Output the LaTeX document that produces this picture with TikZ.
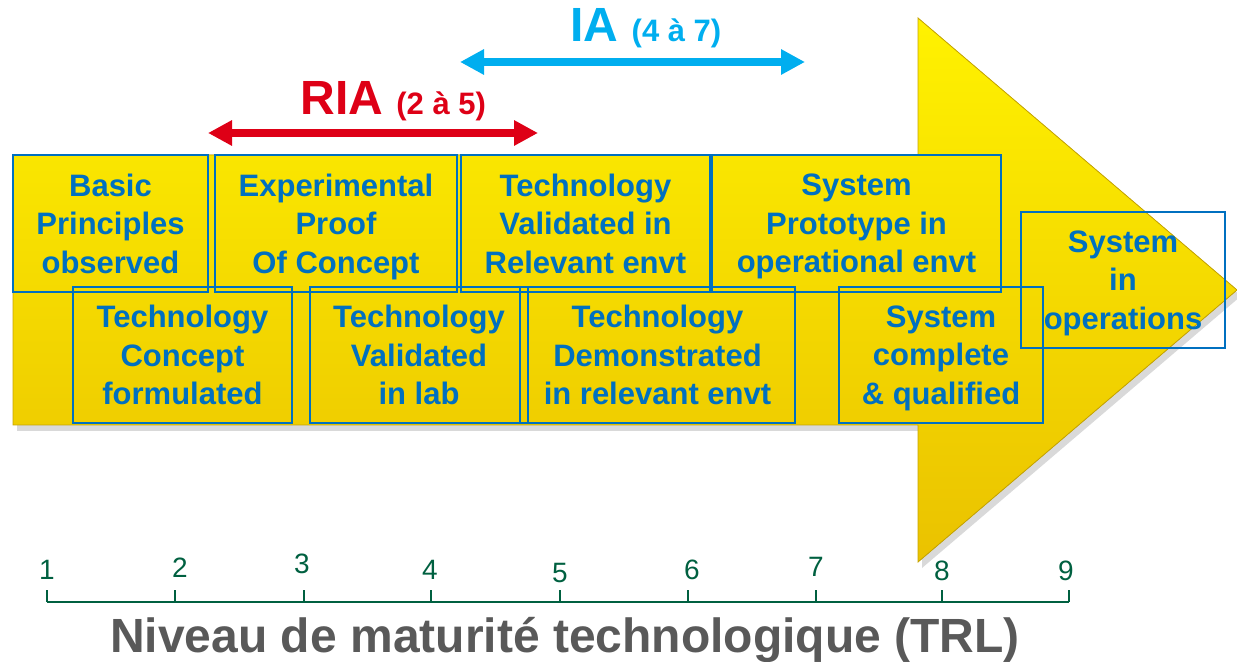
\documentclass[tikz,border=0pt]{standalone}
\usepackage{fontspec}
\setmainfont{Liberation Sans}
\usetikzlibrary{arrows.meta,shadows}
\definecolor{trlblue}{RGB}{0,112,192}
\definecolor{riared}{RGB}{222,0,22}
\definecolor{iacyan}{RGB}{0,174,239}
\definecolor{axisgreen}{RGB}{0,96,64}
\definecolor{titlegray}{RGB}{89,89,89}
\definecolor{arrowtop}{RGB}{255,242,0}
\definecolor{arrowbot}{RGB}{234,194,0}
\tikzset{
	level/.style={draw=trlblue,line width=1pt,text=trlblue,font=\fontsize{15.5}{19.2}\selectfont\bfseries,align=center,inner sep=0pt,text depth=0pt},
	wh/.style 2 args={minimum width={#1*0.5pt},minimum height={#2*0.5pt}},
	spanarrow/.style={line width=4pt,{Triangle[length=12pt,width=12pt]}-{Triangle[length=12pt,width=12pt]}},
}
\begin{document}
\begin{tikzpicture}[x=0.5pt,y=-0.5pt]
	\useasboundingbox (0,0) rectangle (1237,662);

	%big arrow
	\filldraw[drop shadow={shadow xshift=2pt,shadow yshift=-3pt,opacity=0.3},top color=arrowtop,bottom color=arrowbot,draw=arrowbot!85!black,line width=0.4pt]
		(13,155) -- (918,155) -- (918,18) -- (1237,290) -- (918,562) -- (918,425) -- (13,425) -- cycle;

	%TRL levels, upper row
	\node[level,wh={195}{137}] (b1) at (110.5,223.5) {Basic\\Principles\\observed};
	\node[level,wh={242}{137}] (b3) at (336,223.5) {Experimental\\Proof\\Of Concept};
	\node[level,wh={249}{137}] (b5) at (585.5,223.5) {Technology\\Validated in\\Relevant envt};
	\node[level,wh={289}{137}] (b7) at (856.5,223.5) {System\\Prototype in\\operational envt};

	%TRL levels, lower row
	\node[level,wh={219}{136}] (b2) at (182.5,355) {Technology\\Concept\\formulated};
	\node[level,wh={218}{136}] (b4) at (419,355) {Technology\\Validated\\in lab};
	\node[level,wh={275}{136}] (b6) at (657.5,355) {Technology\\Demonstrated\\in relevant envt};
	\node[level,wh={204}{136}] (b8) at (941,355) {System\\complete\\\& qualified};
	\node[level,wh={204}{136}] (b9) at (1123,280) {System\\in\\operations};

	%RIA and IA ranges
	\node[text=riared,anchor=base west,inner sep=0pt,font=\fontsize{24}{24}\selectfont\bfseries] (ria) at (300,115) {RIA {\fontsize{15.5}{16}\selectfont(2 à 5)}};
	\coordinate (ria-l) at (208,133);
	\coordinate (ria-r) at (538,133);
	\draw[spanarrow,riared] (ria-l) -- (ria-r);

	\node[text=iacyan,anchor=base west,inner sep=0pt,font=\fontsize{24}{24}\selectfont\bfseries] (ia) at (570,42) {IA {\fontsize{15.5}{16}\selectfont(4 à 7)}};
	\coordinate (ia-l) at (460,62);
	\coordinate (ia-r) at (805,62);
	\draw[spanarrow,iacyan] (ia-l) -- (ia-r);

	%TRL axis
	\foreach \n/\tx/\nx/\ny in {1/47/47/579,2/175/180/577,3/304/302/574,4/431/430/579,5/560/560/582,6/688/692/579,7/816/816/576,8/942/942/581,9/1069/1066/581}{
		\coordinate (t\n) at (\tx,602);
		\draw[axisgreen,line width=0.7pt] (t\n) -- ++(0,-12);
		\node[text=axisgreen,anchor=base,inner sep=0pt,font=\fontsize{14}{14}\selectfont] (n\n) at (\nx,\ny) {\n};
	}
	\draw[axisgreen,line width=1pt] (t1) -- (t9);

	%axis title
	\node[text=titlegray,anchor=base,inner sep=0pt,font=\fontsize{24}{24}\selectfont\bfseries] (title) at (565,652) {Niveau de maturité technologique (TRL)};
\end{tikzpicture}
\end{document}
